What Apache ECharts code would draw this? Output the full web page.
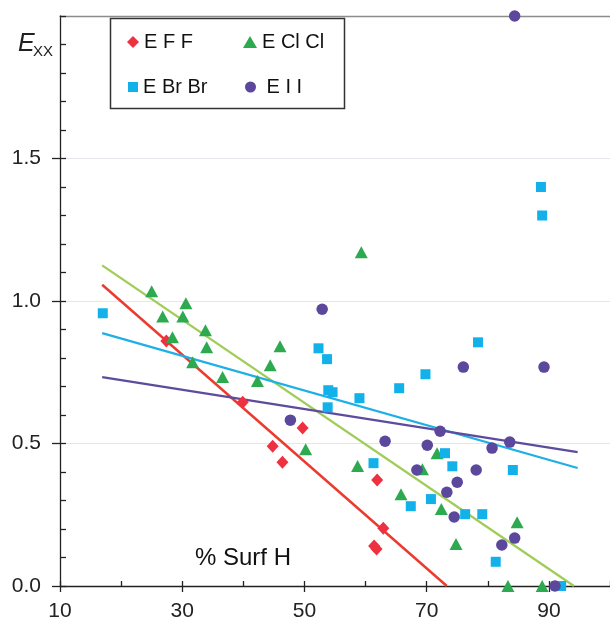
<!DOCTYPE html>
<html><head><meta charset="utf-8">
<script src="https://cdn.jsdelivr.net/npm/echarts@6/dist/echarts.min.js"></script>
<style>html,body{margin:0;padding:0;background:#fff}#c{width:610px;height:622px}</style>
</head><body><div id="c"></div>
<script>
const seriesNames = ['E F F', 'E Cl Cl', 'E Br Br', 'E I I'];
const xTickLabels = [10, 30, 50, 70, 90];
const yTickLabels = [0, 0.5, 1.0, 1.5];
const xTitle = '% Surf H';

const dataF = [[27.4,0.86],[39.9,0.645],[44.8,0.49],[46.4,0.434],[49.7,0.554],[61.9,0.372],[62.9,0.203],[61.8,0.13],[61.4,0.14]];
const dataCl = [[25.0,1.034],[30.6,0.992],[26.8,0.946],[30.1,0.946],[28.4,0.873],[33.8,0.897],[34.0,0.838],[31.7,0.785],[36.6,0.733],[42.3,0.719],[44.4,0.775],[46.0,0.841],[50.2,0.48],[59.3,1.171],[58.7,0.421],[65.8,0.322],[71.7,0.466],[69.3,0.41],[72.4,0.27],[74.8,0.147],[84.8,0.224],[83.3,0.0],[88.9,0.0]];
const dataBr = [[17.0,0.957],[52.3,0.834],[53.7,0.796],[53.9,0.687],[54.6,0.68],[53.8,0.627],[59.0,0.659],[65.5,0.694],[69.8,0.743],[78.4,0.855],[88.7,1.40],[88.9,1.30],[61.3,0.431],[67.4,0.28],[70.7,0.305],[73.0,0.466],[74.2,0.42],[76.3,0.252],[79.1,0.252],[84.1,0.407],[81.3,0.085],[91.2,0.0],[92.0,0.0]];
const dataI = [[84.4,2.0],[52.9,0.971],[76.0,0.768],[89.2,0.768],[47.7,0.582],[63.2,0.508],[70.1,0.494],[72.2,0.543],[80.7,0.484],[83.6,0.505],[68.4,0.407],[78.1,0.407],[75.0,0.364],[73.3,0.329],[74.5,0.242],[82.3,0.144],[84.4,0.168],[91.0,0.0]];

const fitF = [[16.9,1.057],[73.3,0]];
const fitCl = [[16.9,1.125],[94.1,0]];
const fitBr = [[16.9,0.887],[94.7,0.414]];
const fitI = [[16.9,0.733],[94.7,0.47]];

const FONT = "'Liberation Sans', Arial, sans-serif";
const colF = '#EE3140', colCl = '#2DAA4F', colBr = '#13B1EA', colI = '#5B479C';
const lineF = '#EC3B2E', lineCl = '#A0CC58', lineBr = '#1DAFE5', lineI = '#5D4B9E';

const chart = echarts.init(document.getElementById('c'), null, {renderer: 'canvas'});

function legendItem(name, icon, left, top, w, h, color, fmt) {
  return {
    data: [{name: name, icon: icon, itemStyle: {color: color}}],
    left: left, top: top, padding: 0, itemWidth: w, itemHeight: h, itemGap: 0,
    selectedMode: false, orient: 'horizontal',
    formatter: fmt || '{name}',
    textStyle: {fontFamily: FONT, fontSize: 20, color: '#111', lineHeight: 20}
  };
}

const axisLineStyle = {color: '#222', width: 1.3};

chart.setOption({
  animation: false,
  backgroundColor: '#fff',
  grid: {left: 60, right: 0, top: 16, bottom: 35, containLabel: false},
  xAxis: [
    {type: 'value', min: 10, max: 100, interval: 10, position: 'bottom',
     axisLine: {show: true, onZero: false, lineStyle: axisLineStyle},
     axisTick: {show: true, inside: true, length: 5, lineStyle: axisLineStyle},
     axisLabel: {show: false}, splitLine: {show: false}},
    {type: 'value', min: 10, max: 100, interval: 20, position: 'bottom',
     axisLine: {show: false, onZero: false},
     axisTick: {show: true, inside: false, length: 6, lineStyle: axisLineStyle, customValues: xTickLabels},
     axisLabel: {show: true, margin: 15, fontFamily: FONT, fontSize: 21, color: '#222',
       customValues: xTickLabels, formatter: v => String(v)},
     splitLine: {show: false}},
    {type: 'value', min: 10, max: 100, position: 'top',
     axisLine: {show: true, onZero: false, lineStyle: {color: '#8c8c8c', width: 1.3}},
     axisTick: {show: false}, axisLabel: {show: false}, splitLine: {show: false}}
  ],
  yAxis: [
    {type: 'value', min: 0, max: 2, interval: 0.1, position: 'left',
     axisLine: {show: true, onZero: false, lineStyle: axisLineStyle},
     axisTick: {show: true, inside: true, length: 6, lineStyle: axisLineStyle},
     axisLabel: {show: false}, splitLine: {show: false}},
    {type: 'value', min: 0, max: 2, interval: 0.5, position: 'left',
     axisLine: {show: false, onZero: false},
     axisTick: {show: true, inside: false, length: 8, lineStyle: axisLineStyle, customValues: yTickLabels},
     axisLabel: {show: true, margin: 19, fontFamily: FONT, fontSize: 21, color: '#222',
       customValues: yTickLabels, formatter: v => Number(v).toFixed(1)},
     splitLine: {show: true, lineStyle: {color: '#e4e6ec', width: 1.2}}}
  ],
  legend: [
    legendItem(seriesNames[0], 'diamond', 127, 32, 12, 12, colF),
    legendItem(seriesNames[1], 'triangle', 243, 32, 14, 12, colCl),
    legendItem(seriesNames[2], 'rect', 128, 77, 10, 10, colBr),
    legendItem(seriesNames[3], 'circle', 245, 77, 11, 11, colI, n => ' ' + n)
  ],
  graphic: [
    {type: 'rect', shape: {x: 110.5, y: 18.5, width: 234, height: 90},
     style: {fill: 'rgba(0,0,0,0)', stroke: '#333', lineWidth: 1.5}, z: 10},
    {type: 'text', x: 18, y: 44, z: 10,
     style: {text: 'E', font: "italic 25px 'Liberation Sans', Arial, sans-serif", fill: '#222', verticalAlign: 'middle', align: 'left'}},
    {type: 'text', x: 33, y: 52, z: 10,
     style: {text: 'XX', font: "15px 'Liberation Sans', Arial, sans-serif", fill: '#222', verticalAlign: 'middle', align: 'left'}},
    {type: 'text', x: 243, y: 558, z: 10,
     style: {text: xTitle, font: "24px 'Liberation Sans', Arial, sans-serif", fill: '#111', verticalAlign: 'middle', align: 'center'}}
  ],
  series: [
    {name: 'fitF', type: 'line', data: fitF, xAxisIndex: 0, yAxisIndex: 0, showSymbol: false, symbol: 'none', lineStyle: {color: lineF, width: 2.5}, z: 2, silent: true},
    {name: 'fitCl', type: 'line', data: fitCl, xAxisIndex: 0, yAxisIndex: 0, showSymbol: false, symbol: 'none', lineStyle: {color: lineCl, width: 2.3}, z: 2, silent: true},
    {name: 'fitBr', type: 'line', data: fitBr, xAxisIndex: 0, yAxisIndex: 0, showSymbol: false, symbol: 'none', lineStyle: {color: lineBr, width: 2.3}, z: 2, silent: true},
    {name: 'fitI', type: 'line', data: fitI, xAxisIndex: 0, yAxisIndex: 0, showSymbol: false, symbol: 'none', lineStyle: {color: lineI, width: 2.3}, z: 2, silent: true},
    {name: seriesNames[0], type: 'scatter', data: dataF, symbol: 'diamond', symbolSize: [12, 13], itemStyle: {color: colF, opacity: 1}, z: 3, clip: false},
    {name: seriesNames[1], type: 'scatter', data: dataCl, symbol: 'triangle', symbolSize: [13, 12], itemStyle: {color: colCl, opacity: 1}, z: 3, clip: false},
    {name: seriesNames[2], type: 'scatter', data: dataBr, symbol: 'rect', symbolSize: 10, itemStyle: {color: colBr, opacity: 1}, z: 3, clip: false},
    {name: seriesNames[3], type: 'scatter', data: dataI, symbol: 'circle', symbolSize: 11.5, itemStyle: {color: colI, opacity: 1}, z: 3, clip: false}
  ]
});
</script>
</body></html>
